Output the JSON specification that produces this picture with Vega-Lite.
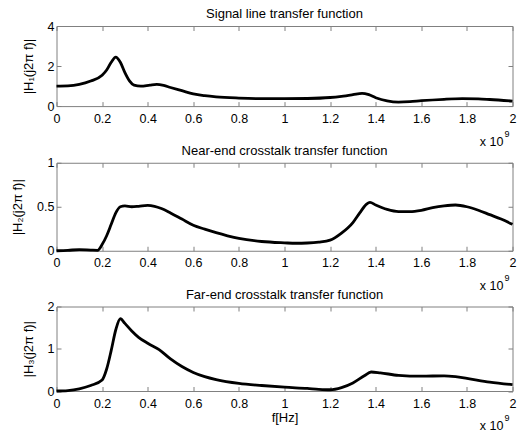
{
  "$schema": "https://vega.github.io/schema/vega-lite/v6.json",
  "background": "white",
  "padding": {"left": 11.5, "top": 8, "right": 2, "bottom": 2},
  "bounds": "flush",
  "spacing": 55.75,
  "config": {
    "font": "Liberation Sans",
    "view": {"stroke": null},
    "axis": {
      "domainColor": "#808080",
      "tickColor": "#808080",
      "tickSize": -4.5,
      "labelFontSize": 12.5,
      "labelColor": "black",
      "labelFlush": false,
      "labelOverlap": false,
      "titleFontSize": 13,
      "titleColor": "black",
      "titleFontWeight": "normal",
      "grid": false
    },
    "axisX": {"labelPadding": 10.5},
    "axisY": {"labelPadding": 7},
    "title": {"fontSize": 13, "fontWeight": "normal", "frame": "group", "offset": -1, "color": "black"}
  },
  "vconcat": [
    {
      "width": 456,
      "height": 80.1,
      "title": "Signal line transfer function",
      "data": {"values": [
        {"f": 0, "h": 1.0}, {"f": 0.05, "h": 1.01}, {"f": 0.1, "h": 1.08}, {"f": 0.15, "h": 1.25},
        {"f": 0.2, "h": 1.54}, {"f": 0.22, "h": 1.8}, {"f": 0.24, "h": 2.19}, {"f": 0.26, "h": 2.45},
        {"f": 0.28, "h": 2.19}, {"f": 0.3, "h": 1.67}, {"f": 0.32, "h": 1.26}, {"f": 0.34, "h": 1.05},
        {"f": 0.37, "h": 1.0}, {"f": 0.41, "h": 1.05}, {"f": 0.44, "h": 1.08}, {"f": 0.47, "h": 1.03},
        {"f": 0.5, "h": 0.93}, {"f": 0.55, "h": 0.77}, {"f": 0.6, "h": 0.61}, {"f": 0.65, "h": 0.52},
        {"f": 0.7, "h": 0.46}, {"f": 0.8, "h": 0.4}, {"f": 0.9, "h": 0.37}, {"f": 1.0, "h": 0.37},
        {"f": 1.1, "h": 0.38}, {"f": 1.2, "h": 0.43}, {"f": 1.25, "h": 0.49}, {"f": 1.3, "h": 0.57},
        {"f": 1.34, "h": 0.64}, {"f": 1.37, "h": 0.57}, {"f": 1.4, "h": 0.42}, {"f": 1.45, "h": 0.26},
        {"f": 1.5, "h": 0.2}, {"f": 1.55, "h": 0.22}, {"f": 1.6, "h": 0.27}, {"f": 1.7, "h": 0.34},
        {"f": 1.78, "h": 0.37}, {"f": 1.85, "h": 0.36}, {"f": 1.9, "h": 0.33}, {"f": 2.0, "h": 0.25}
      ]},
      "layer": [
        {
          "mark": {"type": "line", "color": "black", "strokeWidth": 2.8, "interpolate": "monotone"},
          "encoding": {
            "x": {"field": "f", "type": "quantitative", "scale": {"domain": [0, 2], "nice": false},
                  "axis": {"orient": "bottom", "values": [0, 0.2, 0.4, 0.6, 0.8, 1, 1.2, 1.4, 1.6, 1.8, 2], "format": "~g", "title": null}},
            "y": {"field": "h", "type": "quantitative", "scale": {"domain": [0, 4], "nice": false},
                  "axis": {"orient": "left", "values": [0, 2, 4], "format": "~g", "title": "|H₁(j2π f)|", "titlePadding": 12}}
          }
        },
        {
          "mark": {"type": "line", "opacity": 0},
          "encoding": {
            "x": {"field": "f", "type": "quantitative",
                  "axis": {"orient": "top", "values": [0, 0.2, 0.4, 0.6, 0.8, 1, 1.2, 1.4, 1.6, 1.8, 2], "labels": false, "labelPadding": 0, "title": null}},
            "y": {"field": "h", "type": "quantitative",
                  "axis": {"orient": "right", "values": [0, 2, 4], "labels": false, "labelPadding": 0, "title": null}}
          }
        },
        {
          "data": {"values": [{"t": "x 10"}]},
          "mark": {"type": "text", "align": "right", "baseline": "middle", "fontSize": 12.5, "dx": -9, "dy": 36, "color": "black"},
          "encoding": {
            "x": {"datum": 2, "type": "quantitative", "axis": null},
            "y": {"datum": 0, "type": "quantitative", "axis": null},
            "text": {"field": "t"}
          }
        },
        {
          "data": {"values": [{"t": "9"}]},
          "mark": {"type": "text", "align": "left", "baseline": "middle", "fontSize": 9, "dx": -8, "dy": 28, "color": "black"},
          "encoding": {
            "x": {"datum": 2, "type": "quantitative", "axis": null},
            "y": {"datum": 0, "type": "quantitative", "axis": null},
            "text": {"field": "t"}
          }
        }
      ],
      "resolve": {"axis": {"x": "independent", "y": "independent"}}
    },
    {
      "width": 456,
      "height": 88,
      "title": "Near-end crosstalk transfer function",
      "data": {"values": [
        {"f": 0, "h": 0}, {"f": 0.05, "h": 0.005}, {"f": 0.1, "h": 0.013}, {"f": 0.15, "h": 0.008},
        {"f": 0.18, "h": 0.005}, {"f": 0.2, "h": 0.07}, {"f": 0.22, "h": 0.17}, {"f": 0.24, "h": 0.3},
        {"f": 0.26, "h": 0.43}, {"f": 0.28, "h": 0.5}, {"f": 0.3, "h": 0.51}, {"f": 0.33, "h": 0.5},
        {"f": 0.36, "h": 0.505}, {"f": 0.4, "h": 0.515}, {"f": 0.43, "h": 0.505}, {"f": 0.46, "h": 0.48},
        {"f": 0.5, "h": 0.43}, {"f": 0.55, "h": 0.36}, {"f": 0.6, "h": 0.29}, {"f": 0.65, "h": 0.245},
        {"f": 0.7, "h": 0.205}, {"f": 0.75, "h": 0.17}, {"f": 0.8, "h": 0.14}, {"f": 0.9, "h": 0.105},
        {"f": 1.0, "h": 0.09}, {"f": 1.05, "h": 0.085}, {"f": 1.1, "h": 0.088}, {"f": 1.15, "h": 0.098},
        {"f": 1.2, "h": 0.12}, {"f": 1.25, "h": 0.2}, {"f": 1.3, "h": 0.32}, {"f": 1.33, "h": 0.43},
        {"f": 1.36, "h": 0.53}, {"f": 1.375, "h": 0.55}, {"f": 1.4, "h": 0.52}, {"f": 1.45, "h": 0.47},
        {"f": 1.5, "h": 0.445}, {"f": 1.55, "h": 0.445}, {"f": 1.6, "h": 0.46}, {"f": 1.65, "h": 0.49},
        {"f": 1.7, "h": 0.51}, {"f": 1.75, "h": 0.52}, {"f": 1.8, "h": 0.5}, {"f": 1.85, "h": 0.46},
        {"f": 1.9, "h": 0.41}, {"f": 1.95, "h": 0.36}, {"f": 2.0, "h": 0.3}
      ]},
      "layer": [
        {
          "mark": {"type": "line", "color": "black", "strokeWidth": 2.8, "interpolate": "monotone"},
          "encoding": {
            "x": {"field": "f", "type": "quantitative", "scale": {"domain": [0, 2], "nice": false},
                  "axis": {"orient": "bottom", "values": [0, 0.2, 0.4, 0.6, 0.8, 1, 1.2, 1.4, 1.6, 1.8, 2], "format": "~g", "title": null}},
            "y": {"field": "h", "type": "quantitative", "scale": {"domain": [0, 1], "nice": false},
                  "axis": {"orient": "left", "values": [0, 0.5, 1], "format": "~g", "title": "|H₂(j2π f)|", "titlePadding": 12}}
          }
        },
        {
          "mark": {"type": "line", "opacity": 0},
          "encoding": {
            "x": {"field": "f", "type": "quantitative",
                  "axis": {"orient": "top", "values": [0, 0.2, 0.4, 0.6, 0.8, 1, 1.2, 1.4, 1.6, 1.8, 2], "labels": false, "labelPadding": 0, "title": null}},
            "y": {"field": "h", "type": "quantitative",
                  "axis": {"orient": "right", "values": [0, 0.5, 1], "labels": false, "labelPadding": 0, "title": null}}
          }
        },
        {
          "data": {"values": [{"t": "x 10"}]},
          "mark": {"type": "text", "align": "right", "baseline": "middle", "fontSize": 12.5, "dx": -9, "dy": 35, "color": "black"},
          "encoding": {
            "x": {"datum": 2, "type": "quantitative", "axis": null},
            "y": {"datum": 0, "type": "quantitative", "axis": null},
            "text": {"field": "t"}
          }
        },
        {
          "data": {"values": [{"t": "9"}]},
          "mark": {"type": "text", "align": "left", "baseline": "middle", "fontSize": 9, "dx": -8, "dy": 27, "color": "black"},
          "encoding": {
            "x": {"datum": 2, "type": "quantitative", "axis": null},
            "y": {"datum": 0, "type": "quantitative", "axis": null},
            "text": {"field": "t"}
          }
        }
      ],
      "resolve": {"axis": {"x": "independent", "y": "independent"}}
    },
    {
      "width": 456,
      "height": 84.5,
      "title": "Far-end crosstalk transfer function",
      "data": {"values": [
        {"f": 0, "h": 0}, {"f": 0.05, "h": 0.01}, {"f": 0.1, "h": 0.05}, {"f": 0.15, "h": 0.13},
        {"f": 0.2, "h": 0.26}, {"f": 0.22, "h": 0.52}, {"f": 0.24, "h": 0.96}, {"f": 0.26, "h": 1.45},
        {"f": 0.28, "h": 1.71}, {"f": 0.3, "h": 1.6}, {"f": 0.33, "h": 1.42}, {"f": 0.36, "h": 1.27},
        {"f": 0.4, "h": 1.13}, {"f": 0.45, "h": 0.98}, {"f": 0.5, "h": 0.76}, {"f": 0.55, "h": 0.58},
        {"f": 0.6, "h": 0.44}, {"f": 0.65, "h": 0.34}, {"f": 0.7, "h": 0.27}, {"f": 0.8, "h": 0.18},
        {"f": 0.9, "h": 0.13}, {"f": 1.0, "h": 0.09}, {"f": 1.1, "h": 0.06}, {"f": 1.15, "h": 0.04},
        {"f": 1.2, "h": 0.03}, {"f": 1.25, "h": 0.08}, {"f": 1.3, "h": 0.19}, {"f": 1.35, "h": 0.36},
        {"f": 1.38, "h": 0.45}, {"f": 1.42, "h": 0.43}, {"f": 1.5, "h": 0.37}, {"f": 1.6, "h": 0.35},
        {"f": 1.7, "h": 0.36}, {"f": 1.75, "h": 0.34}, {"f": 1.8, "h": 0.3}, {"f": 1.9, "h": 0.21},
        {"f": 2.0, "h": 0.15}
      ]},
      "layer": [
        {
          "mark": {"type": "line", "color": "black", "strokeWidth": 2.8, "interpolate": "monotone"},
          "encoding": {
            "x": {"field": "f", "type": "quantitative", "scale": {"domain": [0, 2], "nice": false},
                  "axis": {"orient": "bottom", "values": [0, 0.2, 0.4, 0.6, 0.8, 1, 1.2, 1.4, 1.6, 1.8, 2], "format": "~g", "title": "f[Hz]", "titlePadding": 2}},
            "y": {"field": "h", "type": "quantitative", "scale": {"domain": [0, 2], "nice": false},
                  "axis": {"orient": "left", "values": [0, 1, 2], "format": "~g", "title": "|H₃(j2π f)|", "titlePadding": 12}}
          }
        },
        {
          "mark": {"type": "line", "opacity": 0},
          "encoding": {
            "x": {"field": "f", "type": "quantitative",
                  "axis": {"orient": "top", "values": [0, 0.2, 0.4, 0.6, 0.8, 1, 1.2, 1.4, 1.6, 1.8, 2], "labels": false, "labelPadding": 0, "title": null}},
            "y": {"field": "h", "type": "quantitative",
                  "axis": {"orient": "right", "values": [0, 1, 2], "labels": false, "labelPadding": 0, "title": null}}
          }
        },
        {
          "data": {"values": [{"t": "x 10"}]},
          "mark": {"type": "text", "align": "right", "baseline": "middle", "fontSize": 12.5, "dx": -9, "dy": 35, "color": "black"},
          "encoding": {
            "x": {"datum": 2, "type": "quantitative", "axis": null},
            "y": {"datum": 0, "type": "quantitative", "axis": null},
            "text": {"field": "t"}
          }
        },
        {
          "data": {"values": [{"t": "9"}]},
          "mark": {"type": "text", "align": "left", "baseline": "middle", "fontSize": 9, "dx": -8, "dy": 27, "color": "black"},
          "encoding": {
            "x": {"datum": 2, "type": "quantitative", "axis": null},
            "y": {"datum": 0, "type": "quantitative", "axis": null},
            "text": {"field": "t"}
          }
        }
      ],
      "resolve": {"axis": {"x": "independent", "y": "independent"}}
    }
  ]
}
